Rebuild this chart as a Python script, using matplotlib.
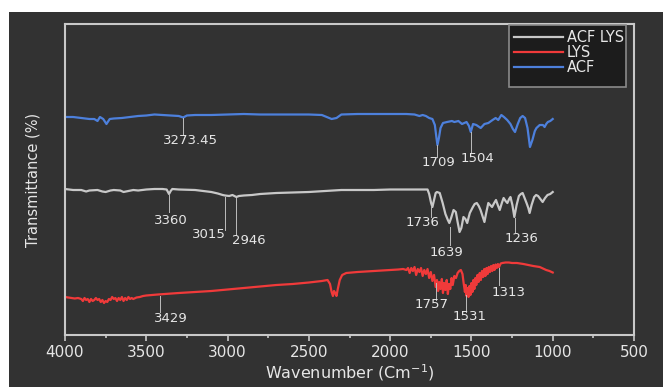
import matplotlib
matplotlib.use("Agg")
import matplotlib.pyplot as plt
from matplotlib.patches import Rectangle
from matplotlib.ticker import MultipleLocator

# FTIR spectra (wavenumber cm-1, transmittance a.u.)
acf_wn = [4000, 3950, 3900, 3850, 3820, 3800, 3785, 3765, 3745, 3725, 3700, 3650,
          3600, 3550, 3500, 3450, 3400, 3350, 3300, 3273, 3250, 3200, 3100, 3000,
          2900, 2800, 2700, 2600, 2500, 2420, 2390, 2360, 2330, 2300, 2200, 2100,
          2000, 1900, 1850, 1820, 1800, 1780, 1760, 1740, 1725, 1715, 1709, 1700,
          1690, 1675, 1650, 1620, 1605, 1580, 1558, 1530, 1515, 1504, 1490, 1470,
          1443, 1420, 1396, 1370, 1351, 1335, 1316, 1300, 1280, 1260, 1245, 1232,
          1215, 1200, 1185, 1170, 1155, 1140, 1125, 1110, 1100, 1080, 1060, 1050,
          1040, 1030, 1015, 1000]
acf_t = [218, 218, 217, 216, 216, 214, 218, 216, 211, 216, 216.5, 217,
         218, 219, 219.5, 220.5, 220, 219.5, 219, 217.5, 219.5, 220, 220, 220.5,
         221, 220.5, 220.5, 220.5, 220.5, 220, 218, 216, 217, 220.5, 221, 221,
         221, 221, 220.5, 219, 220, 219, 217, 216, 210, 197, 190, 197,
         207, 212, 213, 214, 213, 214, 211, 213, 209, 203, 211, 210,
         207, 211, 212, 215, 217, 215, 220, 218, 215, 211, 206, 203,
         211, 217, 219, 217, 207, 188, 195, 204, 207, 210, 210, 208,
         211, 213, 214, 216]

acflys_wn = [4000, 3950, 3900, 3870, 3850, 3800, 3770, 3750, 3720, 3700, 3660, 3640,
             3610, 3580, 3550, 3500, 3450, 3400, 3375, 3360, 3350, 3340, 3300, 3200,
             3150, 3100, 3060, 3030, 3015, 2990, 2970, 2946, 2930, 2900, 2850, 2800,
             2700, 2600, 2500, 2400, 2300, 2200, 2100, 2000, 1900, 1800, 1770, 1760,
             1748, 1740, 1730, 1720, 1712, 1695, 1677, 1660, 1645, 1636, 1625, 1610,
             1596, 1585, 1573, 1562, 1549, 1537, 1526, 1510, 1491, 1480, 1467, 1455,
             1444, 1430, 1420, 1408, 1396, 1385, 1373, 1360, 1349, 1338, 1326, 1313,
             1302, 1290, 1279, 1268, 1260, 1248, 1236, 1222, 1208, 1196, 1185, 1173,
             1161, 1150, 1142, 1130, 1114, 1102, 1090, 1076, 1062, 1047, 1032, 1015,
             1000]
acflys_t = [146, 145, 145, 143.5, 144.5, 145, 143.5, 143, 144.5, 145, 144.5, 143,
            144, 145, 144.5, 145.5, 146, 146, 145.5, 141, 144, 146, 145.5, 145,
            144, 143, 141.5, 140, 139.5, 139, 140, 138, 139, 139.5, 140, 141,
            142, 142.5, 143, 144, 145, 145, 145, 145.5, 145.5, 145.5, 145.5, 141,
            132, 128, 135, 142, 143, 142, 132, 121, 115, 112, 117, 125,
            123, 113, 103, 107, 118, 116, 112, 122, 128, 131, 132, 129,
            125, 118, 113, 123, 132, 130, 128, 132, 135, 130, 125, 132,
            137, 134, 132, 136, 138, 130, 118, 130, 139, 141, 142, 137,
            132, 127, 122, 130, 138, 140, 139, 136, 133, 137, 140, 141,
            143]

lys_wn = [4000, 3980, 3960, 3940, 3920, 3900, 3890, 3880, 3870, 3860, 3850, 3840,
          3830, 3820, 3810, 3800, 3790, 3780, 3770, 3760, 3750, 3740, 3730, 3720,
          3710, 3700, 3690, 3680, 3670, 3660, 3650, 3640, 3630, 3620, 3610, 3600,
          3590, 3580, 3560, 3540, 3520, 3500, 3429, 3300, 3200, 3100, 3000, 2900,
          2800, 2700, 2600, 2500, 2420, 2385, 2370, 2360, 2352, 2345, 2338, 2330,
          2322, 2310, 2295, 2270, 2200, 2100, 2000, 1950, 1920, 1900, 1890, 1880,
          1870, 1860, 1850, 1840, 1830, 1820, 1810, 1800, 1790, 1780, 1770, 1760,
          1750, 1740, 1730, 1720, 1712, 1705, 1698, 1690, 1682, 1675, 1668, 1660,
          1652, 1645, 1638, 1630, 1622, 1615, 1605, 1595, 1585, 1575, 1565, 1555,
          1548, 1540, 1535, 1530, 1524, 1518, 1512, 1506, 1500, 1494, 1488, 1482,
          1476, 1470, 1463, 1456, 1449, 1442, 1435, 1428, 1421, 1414, 1407, 1400,
          1393, 1386, 1379, 1372, 1365, 1358, 1351, 1344, 1337, 1330, 1320, 1310,
          1290, 1270, 1250, 1220, 1200, 1180, 1150, 1120, 1100, 1080, 1060, 1040,
          1020, 1000]
lys_t = [38, 37.5, 37, 36.5, 37, 36, 34, 37, 35, 36, 33, 36,
         34, 35, 37, 35, 36, 33, 35, 32, 34, 33, 36, 35,
         38, 36, 37, 34, 37, 35, 38, 34, 37, 35, 38, 36,
         37, 36, 37.5, 38, 39, 39.5, 40.5, 42, 43, 44, 45.5, 47,
         48.5, 50, 51, 52.5, 54, 55, 51, 43, 39, 44, 42, 39,
         46, 55, 60, 62, 63, 64, 65, 65.5, 66, 65, 67, 62,
         67, 64, 68, 60, 66, 63, 67, 59, 65, 61, 66, 57,
         63, 54, 60, 48, 55, 44, 53, 46, 56, 42, 52, 45,
         55, 41, 51, 46, 57, 50, 59, 57, 62, 64, 65, 61,
         52, 43, 50, 39, 47, 38, 49, 40, 52, 43, 55, 46,
         57, 50, 60, 53, 62, 55, 64, 58, 66, 59, 67, 61,
         68, 63, 69, 64, 70, 65, 70.5, 67, 71, 68, 71.5, 72,
         72.5, 72.5, 72, 72, 71.5, 71, 70, 69, 68.5, 68, 66.5, 65,
         64, 62.5]

# peak labels: text, line x, line top, line bottom, label x, label y
peaks = [
    ("3273.45", 3274, 217, 200, 3231, 194),
    ("1709", 1709, 190, 178, 1700, 172),
    ("1504", 1504, 203, 183, 1466, 177),
    ("3360", 3360, 140, 123, 3348, 114),
    ("3015", 3015, 138, 105, 3117, 101),
    ("2946", 2946, 137, 100, 2868, 95),
    ("1736", 1748, 128, 118, 1798, 112),
    ("1639", 1634, 108, 90, 1653, 83),
    ("1236", 1232, 117, 103, 1189, 97),
    ("3429", 3416, 39, 23, 3348, 17),
    ("1757", 1715, 52, 35, 1743, 30),
    ("1531", 1533, 40, 23, 1512, 18),
    ("1313", 1330, 67, 50, 1272, 43),
]

bg = "#323232"
fg = "#c9c9c9"
txt = "#e6e6e6"

fig = plt.figure(figsize=(6.63, 3.87), dpi=100, facecolor="white")
# dark panel (page margin left white at top/left)
fig.patches.append(Rectangle((9 / 663, 0), 1, (387 - 12) / 387,
                             transform=fig.transFigure, facecolor=bg,
                             edgecolor="none", zorder=-10))

ax = fig.add_axes([65 / 663, 52 / 387, 569 / 663, 311 / 387])
ax.set_facecolor(bg)

ax.plot(acflys_wn, acflys_t, color="#c8c8c8", lw=1.6, label="ACF LYS")
ax.plot(lys_wn, lys_t, color="#f03a3a", lw=1.6, label="LYS")
ax.plot(acf_wn, acf_t, color="#4d80dc", lw=1.6, label="ACF")

for lab, lx, ytop, ybot, tx, ty in peaks:
    ax.plot([lx, lx], [ytop, ybot], color="#bdbdbd", lw=0.7)
    ax.text(tx, ty, lab, color=txt, fontsize=9.5, ha="center", va="center")

ax.set_xlim(4000, 500)
ax.set_ylim(0, 311)
ax.xaxis.set_major_locator(MultipleLocator(500))
ax.xaxis.set_minor_locator(MultipleLocator(250))
ax.set_yticks([])
ax.tick_params(axis="x", which="major", direction="out", length=4, width=1.2,
               colors=fg, labelcolor=txt, labelsize=11, pad=3)
ax.tick_params(axis="x", which="minor", direction="out", length=2, width=1.2,
               colors=fg)
for s in ax.spines.values():
    s.set_color(fg)
    s.set_linewidth(1.5)

ax.set_xlabel("Wavenumber (Cm$^{-1}$)", color=txt, fontsize=11.5, labelpad=2)
ax.set_ylabel("Transmittance (%)", color=txt, fontsize=10.5, labelpad=18)

# legend box
ax.add_patch(Rectangle((0.780, 0.797), 0.206, 0.200, transform=ax.transAxes,
                       facecolor="#1c1c1c", edgecolor="#8a8a8a", lw=1.2, zorder=3))
leg = ax.legend(loc="upper right", bbox_to_anchor=(0.998, 1.01), frameon=False,
                fontsize=10.5, handlelength=3.3, handletextpad=0.3,
                labelspacing=0.02, borderaxespad=0.2)
leg.set_zorder(4)
for t in leg.get_texts():
    t.set_color(txt)

fig.savefig("out.png", dpi=100, facecolor=fig.get_facecolor())
